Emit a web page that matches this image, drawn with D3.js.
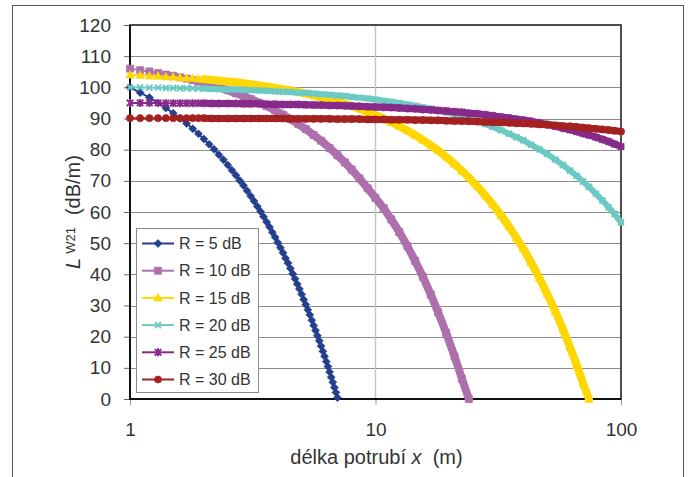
<!DOCTYPE html>
<html><head><meta charset="utf-8">
<script src="https://cdn.jsdelivr.net/npm/d3@7"></script>
<style>
body{margin:0;background:#fff}
svg{display:block;font-family:"Liberation Sans",Arial,sans-serif}
</style>
</head><body>
<svg id="c" width="692" height="477"></svg>
<script>
// ---------- data ----------
const seriesNames = ["R = 5 dB","R = 10 dB","R = 15 dB","R = 20 dB","R = 25 dB","R = 30 dB"];
const yTicks = [0,10,20,30,40,50,60,70,80,90,100,110,120];
const xTicks = [1,10,100];
const xTitle = "délka potrubí";
// x positions (m) for R = 5 dB
const xs5 = [1.0,1.1,1.2,1.3,1.4,1.5,1.6,1.7,1.8,1.9,2.0,2.1,2.2,2.3,2.4,2.5,2.6,2.7,2.8,2.9,3.0,3.1,3.2,3.3,3.4,3.5,3.6,3.7,3.8,3.9,4.0,4.1,4.2,4.3,4.4,4.5,4.6,4.7,4.8,4.9,5.0,5.1,5.2,5.3,5.4,5.5,5.6,5.7,5.8,5.9,6.0,6.1,6.2,6.3,6.4,6.5,6.6,6.7,6.8,6.9,7.0];
// x positions (m) for the other series
const xs = [1,1.1,1.2,1.3,1.4,1.5,1.6,1.7,1.8,1.9,2,2.15,2.3,2.5,2.7,2.9,3.1,3.35,3.6,3.9,4.2,4.5,4.85,5.2,5.6,6,6.5,7,7.5,8,8.6,9.3,10,10.8,11.6,12.5,13.5,14.5,15.6,16.8,18,19.4,21,22.5,24,26,28,30,32.5,35,37.5,40,43,46.5,50,54,58,62,66,70,74,79,84,89,94,100];
const r5 = [100.0,98.3,96.7,95.0,93.4,91.7,90.0,88.4,86.7,85.1,83.4,81.7,80.1,78.4,76.8,75.1,73.4,71.8,70.1,68.5,66.8,65.1,63.5,61.8,60.2,58.5,56.8,55.2,53.5,51.9,50.2,48.5,46.9,45.2,43.6,41.9,40.2,38.6,36.9,35.3,33.6,31.9,30.3,28.6,27.0,25.3,23.6,22.0,20.3,18.7,17.0,15.3,13.7,12.0,10.4,8.7,7.0,5.4,3.7,2.1,0.4];
const r10 = [106.0,105.5,105.1,104.6,104.1,103.7,103.2,102.8,102.3,101.8,101.4,100.7,100.0,99.1,98.1,97.2,96.3,95.1,94.0,92.6,91.2,89.8,88.2,86.6,84.7,82.9,80.5,78.2,75.9,73.6,70.8,67.6,64.5,61.2,57.6,53.6,49.0,44.3,39.2,33.5,27.8,21.2,13.6,6.5,0];
const r15 = [104.0,103.9,103.7,103.6,103.4,103.3,103.1,103.0,102.9,102.7,102.6,102.4,102.1,101.9,101.6,101.3,101.0,100.6,100.3,99.8,99.4,99.0,98.5,98.0,97.4,96.8,96.1,95.4,94.7,94.0,93.1,92.1,91.1,90.0,88.8,87.5,86.1,84.7,83.1,81.4,79.7,77.7,75.4,73.2,71.1,68.2,65.3,62.5,58.9,55.3,51.7,48.2,43.9,38.8,33.8,28.1,22.4,16.6,10.9,5.2,0];
const r20 = [100.0,100.0,99.9,99.9,99.8,99.8,99.7,99.7,99.7,99.6,99.6,99.5,99.4,99.3,99.3,99.2,99.1,99.0,98.9,98.7,98.6,98.5,98.3,98.2,98.0,97.8,97.6,97.4,97.2,96.9,96.7,96.4,96.1,95.7,95.4,95.0,94.5,94.1,93.6,93.1,92.6,92.0,91.3,90.6,89.9,89.1,88.2,87.3,86.2,85.1,84.0,83.0,81.6,80.1,78.6,76.8,75.1,73.3,71.6,69.8,68.1,65.9,63.7,61.5,59.4,56.7];
const r25 = [95.0,95.0,95.0,95.0,94.9,94.9,94.9,94.9,94.9,94.9,94.9,94.8,94.8,94.8,94.8,94.7,94.7,94.7,94.6,94.6,94.5,94.5,94.5,94.4,94.3,94.3,94.2,94.2,94.1,94.0,93.9,93.8,93.7,93.6,93.5,93.4,93.2,93.1,92.9,92.8,92.6,92.4,92.2,92.0,91.7,91.5,91.2,90.9,90.5,90.2,89.8,89.5,89.1,88.6,88.1,87.5,86.9,86.4,85.8,85.2,84.7,84.0,83.3,82.6,81.8,81.0];
const r30 = [90.1,90.1,90.1,90.1,90.1,90.1,90.1,90.1,90.1,90.1,90.1,90.0,90.0,90.0,90.0,90.0,90.0,90.0,90.0,90.0,90.0,89.9,89.9,89.9,89.9,89.9,89.9,89.8,89.8,89.8,89.8,89.7,89.7,89.7,89.6,89.6,89.6,89.5,89.5,89.4,89.4,89.3,89.2,89.2,89.1,89.0,88.9,88.8,88.7,88.6,88.5,88.4,88.3,88.1,88.0,87.8,87.6,87.5,87.3,87.1,86.9,86.7,86.5,86.3,86.1,85.8];

// ---------- styles ----------
const colors = ["#233f8e","#ad70ad","#ffd700","#6ccac3","#872a8a","#a32120"];
const markerTypes = ["diamond","square","triangle","x","star","circle"];
const bandWidths = [0,8,8,6,7,7];
const textColor = "#333";

const seriesX = [xs5,xs,xs,xs,xs,xs];
const seriesY = [r5,r10,r15,r20,r25,r30];
const series = seriesNames.map((name,i)=>({
  name, color:colors[i], marker:markerTypes[i], band:bandWidths[i],
  pts: seriesY[i].map((v,j)=>({x:seriesX[i][j], y:v}))
}));

// ---------- layout ----------
const svg = d3.select("#c");
const M = {left:130, right:621, top:25, bottom:399};
const x = d3.scaleLog().domain([1,100]).range([M.left,M.right]);
const y = d3.scaleLinear().domain([0,120]).range([M.bottom,M.top]);

// outer frame
svg.append("rect").attr("x",12.5).attr("y",5.5).attr("width",671).attr("height",490)
  .attr("fill","none").attr("stroke","#555").attr("stroke-width",1);

// gridlines
svg.append("g").selectAll("line").data(yTicks.filter(d=>d>0 && d<120)).join("line")
  .attr("x1",M.left).attr("x2",M.right)
  .attr("y1",d=>Math.round(y(d))+0.5).attr("y2",d=>Math.round(y(d))+0.5)
  .attr("stroke","#8c8c8c").attr("stroke-width",1);
svg.append("g").selectAll("line").data(xTicks.filter(d=>d>1 && d<100)).join("line")
  .attr("x1",d=>x(d)).attr("x2",d=>x(d)).attr("y1",M.top).attr("y2",M.bottom)
  .attr("stroke","#c4c4c4").attr("stroke-width",1.5);

// axes
const yAxis = svg.append("g").attr("transform",`translate(${M.left},0)`)
  .call(d3.axisLeft(y).tickValues(yTicks).tickSize(6).tickPadding(13));
yAxis.select(".domain").remove();
yAxis.selectAll("line").attr("stroke","#666");
yAxis.selectAll("text").attr("font-size",19).attr("fill",textColor)
  .attr("font-family","'Liberation Sans',Arial,sans-serif");

const xAxis = svg.append("g").attr("transform",`translate(0,${M.bottom})`)
  .call(d3.axisBottom(x).tickValues(xTicks).tickFormat(d3.format("d")).tickSize(6).tickPadding(18));
xAxis.select(".domain").remove();
xAxis.selectAll("line").attr("stroke","#999");
xAxis.selectAll("text").attr("font-size",19).attr("fill",textColor)
  .attr("font-family","'Liberation Sans',Arial,sans-serif");

// plot frame
svg.append("rect").attr("x",M.left).attr("y",M.top)
  .attr("width",M.right-M.left).attr("height",M.bottom-M.top)
  .attr("fill","none").attr("stroke","#3a3a3a").attr("stroke-width",1.8);
svg.append("line").attr("x1",M.left).attr("x2",M.left).attr("y1",M.top).attr("y2",M.bottom+1)
  .attr("stroke","#111").attr("stroke-width",2);
svg.append("line").attr("x1",M.left).attr("x2",M.right).attr("y1",M.bottom).attr("y2",M.bottom)
  .attr("stroke","#111").attr("stroke-width",2);

// markers
function markerPath(type){
  switch(type){
    case "diamond": return "M0,-4L4,0L0,4L-4,0Z";
    case "square": return "M-3.6,-3.6H3.6V3.6H-3.6Z";
    case "triangle": return "M0,-4.4L4.2,3.2H-4.2Z";
    case "x": return "M-3,-3L3,3M-3,3L3,-3";
    case "star": return "M-3.2,-3.2L3.2,3.2M-3.2,3.2L3.2,-3.2M0,-4V4";
    case "circle": return "M3.6,0A3.6,3.6 0 1,1 -3.6,0A3.6,3.6 0 1,1 3.6,0Z";
  }
}
function styleMarker(sel,s){
  const stroked = (s.marker==="x"||s.marker==="star");
  sel.attr("d",markerPath(s.marker))
    .attr("fill",stroked?"none":s.color)
    .attr("stroke",s.color).attr("stroke-width",stroked?2:0.6);
}

const line = d3.line().x(d=>x(d.x)).y(d=>y(d.y));
const gS = svg.append("g");
series.forEach(s=>{
  const g = gS.append("g");
  if(s.band>0){
    g.append("path").attr("d",line(s.pts.filter(p=>p.x>=2)))
      .attr("fill","none").attr("stroke",s.color).attr("stroke-width",s.band)
      .attr("stroke-linejoin","round").attr("stroke-linecap","round");
  }
  g.append("path").attr("d",line(s.pts)).attr("fill","none")
    .attr("stroke",s.color).attr("stroke-width",2);
  g.selectAll("path.m").data(s.pts).join("path").attr("class","m")
    .attr("transform",d=>`translate(${x(d.x)},${y(d.y)})`)
    .call(styleMarker,s);
});

// legend
const lg = svg.append("g");
lg.append("rect").attr("x",136.5).attr("y",228.5).attr("width",122).attr("height",164)
  .attr("fill","#fff").attr("stroke","#8a8a8a").attr("stroke-width",1);
series.forEach((s,i)=>{
  const cy = 243.5 + i*27.2;
  lg.append("line").attr("x1",142).attr("x2",174).attr("y1",cy).attr("y2",cy)
    .attr("stroke",s.color).attr("stroke-width",2);
  lg.append("path").attr("transform",`translate(158,${cy})`).call(styleMarker,s);
  lg.append("text").attr("x",179).attr("y",cy).attr("dy","0.36em")
    .attr("font-size",16).attr("fill",textColor).text(s.name);
});

// axis titles
const xt = svg.append("text").attr("x",376.5).attr("y",464).attr("text-anchor","middle")
  .attr("font-size",20).attr("fill",textColor);
xt.append("tspan").text(xTitle+" ");
xt.append("tspan").attr("font-style","italic").text("x");
xt.append("tspan").attr("xml:space","preserve").text("  (m)");

const yt = svg.append("text").attr("transform","translate(80,212) rotate(-90)")
  .attr("text-anchor","middle").attr("font-size",20).attr("fill",textColor);
yt.append("tspan").attr("font-style","italic").text("L");
yt.append("tspan").attr("font-size",13).attr("dx",4).attr("dy",-5).text("W21");
yt.append("tspan").attr("dx",12).attr("dy",5).text("(dB/m)");
</script>
</body></html>
